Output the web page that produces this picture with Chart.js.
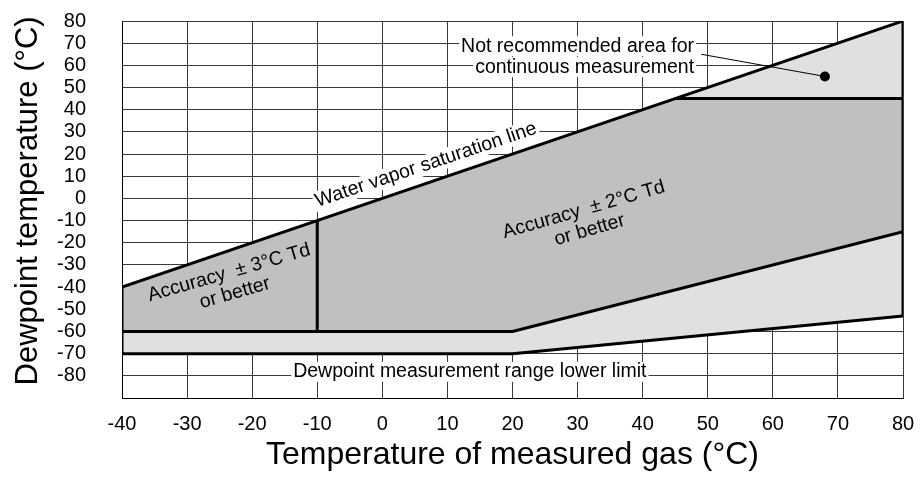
<!DOCTYPE html>
<html>
<head>
<meta charset="utf-8">
<script src="https://cdn.jsdelivr.net/npm/chart.js@4.4.0/dist/chart.umd.min.js"></script>
<style>
  html, body { margin: 0; padding: 0; background: #fff; }
</style>
</head>
<body>
<canvas id="dewChart" width="920" height="483"></canvas>
<script>
// ── Boundaries of the measurement ranges (gas temp °C, dewpoint °C) ──
const saturationX  = [-40, 80];
const saturationY  = [-40, 80];
const rightEdgeX   = [80, 80];
const rightEdgeY   = [80, -53];
const lowerLimitX  = [80, 20, -40, -40];
const lowerLimitY  = [-53, -70, -70, -40];
const acc2LowerX   = [-40, 20, 80];
const acc2LowerY   = [-60, -60, -15];
const acc2UpperX   = [45, 80];
const acc2UpperY   = [45, 45];
const acc3EdgeX    = [-10, -10];
const acc3EdgeY    = [-10, -60];

// whole measurable area (light) and the accuracy area (darker)
const lightAreaX = [-40, 80, 80, 20, -40];
const lightAreaY = [-40, 80, -53, -70, -70];
const darkAreaX  = [-40, 45, 80, 80, 20, -40];
const darkAreaY  = [-40, 45, 45, -15, -60, -60];

// marker for the "not recommended" note
const leaderX = [49, 68];
const leaderY = [65, 55];

const xTicks = [-40, -30, -20, -10, 0, 10, 20, 30, 40, 50, 60, 70, 80];
const yTicks = [-80, -70, -60, -50, -40, -30, -20, -10, 0, 10, 20, 30, 40, 50, 60, 70, 80];

const FONT = "'Liberation Sans', Arial, sans-serif";

const pts = (xs, ys) => xs.map((x, i) => ({ x, y: ys[i] }));

function boldLine(xs, ys) {
  return {
    data: pts(xs, ys),
    showLine: true,
    borderColor: "#000",
    borderWidth: 3,
    borderJoinStyle: "miter",
    pointRadius: 0,
    fill: false,
    order: 1,
  };
}

// ── Text notes drawn on top of the plot ─────────────────────────
const notes = [
  { lines: ["Water vapor saturation line"], x: 6.7, y: 15.1, rot: -18.5, align: "center", bg: "#fff" },
  { lines: ["Accuracy  \u00b1 2\u00b0C Td", "or better"], x: 31.4, y: -9.7, rot: -16, align: "center", bg: "#c0c0c0" },
  { lines: ["Accuracy  \u00b1 3\u00b0C Td", "or better"], x: -23.1, y: -38.1, rot: -16, align: "center", bg: "#c0c0c0" },
  { lines: ["Not recommended area for", "continuous measurement"], x: 47.9, y: 63.9, rot: 0, align: "right", bg: "#fff" },
  { lines: ["Dewpoint measurement range lower limit"], x: -13.7, y: -78.2, rot: 0, align: "left", bg: "#fff" },
];

const notesPlugin = {
  id: "notes",
  afterDraw(chart) {
    const { ctx, scales: { x, y } } = chart;
    ctx.save();
    ctx.font = "19.5px " + FONT;
    ctx.textBaseline = "middle";
    notes.forEach(n => {
      const lh = 21;
      ctx.save();
      ctx.translate(x.getPixelForValue(n.x), y.getPixelForValue(n.y));
      ctx.rotate(n.rot * Math.PI / 180);
      ctx.textAlign = n.align;
      n.lines.forEach((t, i) => {
        const w  = ctx.measureText(t).width;
        const ty = (i - (n.lines.length - 1) / 2) * lh;
        const x0 = n.align === "center" ? -w / 2 : n.align === "right" ? -w : 0;
        ctx.fillStyle = n.bg;
        ctx.fillRect(x0 - 2, ty - 10, w + 4, 20);
        ctx.fillStyle = "#000";
        ctx.fillText(t, 0, ty);
      });
      ctx.restore();
    });
    ctx.restore();
  },
};

new Chart(document.getElementById("dewChart").getContext("2d"), {
  type: "scatter",
  data: {
    datasets: [
      {
        data: pts(lightAreaX, lightAreaY),
        showLine: true,
        fill: "shape",
        backgroundColor: "#e0e0e0",
        borderWidth: 0,
        pointRadius: 0,
        order: 10,
      },
      {
        data: pts(darkAreaX, darkAreaY),
        showLine: true,
        fill: "shape",
        backgroundColor: "#c0c0c0",
        borderWidth: 0,
        pointRadius: 0,
        order: 9,
      },
      boldLine(saturationX, saturationY),
      boldLine(rightEdgeX, rightEdgeY),
      boldLine(lowerLimitX, lowerLimitY),
      boldLine(acc2LowerX, acc2LowerY),
      boldLine(acc2UpperX, acc2UpperY),
      boldLine(acc3EdgeX, acc3EdgeY),
      {
        data: pts(leaderX, leaderY),
        showLine: true,
        borderColor: "#000",
        borderWidth: 1,
        pointRadius: [0, 5],
        pointBackgroundColor: "#000",
        pointBorderWidth: 0,
        fill: false,
        order: 1,
      },
    ],
  },
  options: {
    responsive: false,
    animation: false,
    layout: { padding: { top: 21, right: 17, left: 0, bottom: 0 } },
    plugins: { legend: { display: false }, tooltip: { enabled: false } },
    scales: {
      x: {
        type: "linear",
        min: -40, max: 80,
        z: 1,
        afterBuildTicks: s => { s.ticks = xTicks.map(v => ({ value: v })); },
        afterFit: s => { s.height = 85; s.paddingLeft = 0; s.paddingRight = 0; },
        grid: { color: "#3a3a3a", lineWidth: 1, drawTicks: false },
        border: { color: "#000", width: 1 },
        ticks: { color: "#000", padding: 14, maxRotation: 0, autoSkip: false, font: { size: 20, family: FONT } },
        title: {
          display: true,
          text: "Temperature of measured gas (\u00b0C)",
          color: "#000",
          font: { size: 32, family: FONT },
          padding: { top: 0, bottom: 9 },
        },
      },
      y: {
        type: "linear",
        min: -90, max: 80,
        z: 1,
        afterBuildTicks: s => { s.ticks = [-90].concat(yTicks).map(v => ({ value: v })); },
        afterFit: s => { s.width = 122; s.paddingTop = 0; s.paddingBottom = 0; },
        grid: { color: "#3a3a3a", lineWidth: 1, drawTicks: false },
        border: { color: "#000", width: 1 },
        ticks: {
          color: "#000",
          padding: 36,
          autoSkip: false,
          font: { size: 20, family: FONT },
          callback: v => (v < -80 ? "" : v),
        },
        title: {
          display: true,
          text: "  Dewpoint temperature (\u00b0C)",
          color: "#000",
          font: { size: 31, family: FONT },
          padding: { top: 10, bottom: 0 },
        },
      },
    },
  },
  plugins: [notesPlugin],
});
</script>
</body>
</html>
